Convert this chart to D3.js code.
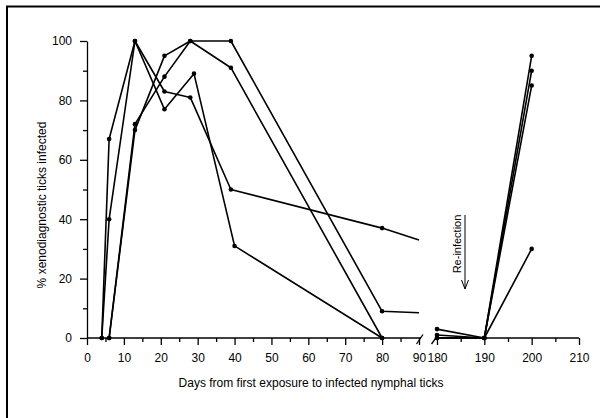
<!DOCTYPE html>
<html>
<head>
<meta charset="utf-8">
<script src="https://cdn.jsdelivr.net/npm/d3@7"></script>
<style>
  body { margin: 0; background: #fff; }
  svg { display: block; }
  text { font-family: "Liberation Sans", Arial, Helvetica, sans-serif; fill: #000; }
  .axis path, .axis line { stroke: #000; stroke-width: 1.3; }
  .axis text { font-size: 12px; }
</style>
</head>
<body>
<div id="chart"></div>
<script>
// Days after first exposure, values = % xenodiagnostic ticks infected
// first part of the time axis (0-90 days)
const seriesA1 = [[4, 0], [6, 67], [13, 100], [21, 83], [28, 81], [39, 50], [80, 37], [90, 33]];
const seriesB1 = [[4, 0], [6, 40], [13, 100], [21, 77], [29, 89], [40, 31], [80, 0]];
const seriesC1 = [[6, 0], [13, 72], [21, 88], [28, 100], [39, 100], [80, 9], [90, 8.5]];
const seriesD1 = [[6, 0], [13, 70], [21, 95], [28, 100], [39, 91], [80, 0]];

// second part (after re-infection, 180-210 days)
const seriesA2 = [[180, 3], [190, 0], [200, 30]];
const seriesB2 = [[180, 1], [190, 0], [200, 85]];
const seriesC2 = [[180, 0], [190, 0], [200, 95]];
const seriesD2 = [[180, 0], [190, 0], [200, 90]];

const ticksX1 = [0, 10, 20, 30, 40, 50, 60, 70, 80, 90];
const minorX1 = [5, 15, 25, 35, 45, 55, 65, 75, 85];
const ticksX2 = [180, 190, 200, 210];
const minorX2 = [185, 195, 205];
const ticksY = [0, 20, 40, 60, 80, 100];
const minorY = [10, 30, 50, 70, 90];

const width = 600, height = 418;

const svg = d3.select("#chart").append("svg")
    .attr("width", width)
    .attr("height", height);

// frame (cut off at right and bottom in the scan)
svg.append("rect")
    .attr("x", 7).attr("y", 6.5)
    .attr("width", 620).attr("height", 440)
    .attr("fill", "none")
    .attr("stroke", "#000")
    .attr("stroke-width", 2);

// scales, the x axis is broken between 90 and 180
const x1 = d3.scaleLinear().domain([0, 90]).range([87, 419]);
const x2 = d3.scaleLinear().domain([180, 210]).range([437, 579]);
const y = d3.scaleLinear().domain([0, 100]).range([338, 41]);
const x = d => d <= 90 ? x1(d) : x2(d);

// y axis
svg.append("g")
    .attr("class", "axis")
    .attr("transform", "translate(87,0)")
    .call(d3.axisLeft(y).tickValues(ticksY).tickSize(7).tickSizeOuter(0).tickPadding(8));
svg.append("g")
    .attr("class", "axis")
    .attr("transform", "translate(87,0)")
    .call(d3.axisLeft(y).tickValues(minorY).tickSize(4).tickSizeOuter(0).tickFormat(""))
    .select(".domain").remove();

// x axis, two pieces
const xAxis1 = svg.append("g")
    .attr("class", "axis")
    .attr("transform", "translate(0,338)")
    .call(d3.axisBottom(x1).tickValues(ticksX1).tickSize(7).tickSizeOuter(0).tickPadding(8));
svg.append("g")
    .attr("class", "axis")
    .attr("transform", "translate(0,338)")
    .call(d3.axisBottom(x1).tickValues(minorX1).tickSize(4).tickSizeOuter(0).tickFormat(""))
    .select(".domain").remove();
xAxis1.select(".domain").attr("d", "M87,0H421");

const xAxis2 = svg.append("g")
    .attr("class", "axis")
    .attr("transform", "translate(0,338)")
    .call(d3.axisBottom(x2).tickValues(ticksX2).tickSize(7).tickSizeOuter(0).tickPadding(8));
svg.append("g")
    .attr("class", "axis")
    .attr("transform", "translate(0,338)")
    .call(d3.axisBottom(x2).tickValues(minorX2).tickSize(4).tickSizeOuter(0).tickFormat(""))
    .select(".domain").remove();
xAxis2.select(".domain").attr("d", "M435,0H579");

// break marks
svg.append("line")
    .attr("x1", 416.5).attr("y1", 344).attr("x2", 423).attr("y2", 334.5)
    .attr("stroke", "#000").attr("stroke-width", 1.3);
svg.append("line")
    .attr("x1", 431.5).attr("y1", 344).attr("x2", 437).attr("y2", 336.5)
    .attr("stroke", "#000").attr("stroke-width", 1.3);

// axis titles
svg.append("text")
    .attr("x", 311).attr("y", 387)
    .attr("text-anchor", "middle")
    .style("font-size", "12px")
    .text("Days from first exposure to infected nymphal ticks");

svg.append("text")
    .attr("transform", "translate(46,205) rotate(-90)")
    .attr("text-anchor", "middle")
    .style("font-size", "12px")
    .text("% xenodiagnostic ticks infected");

// re-infection note with arrow
svg.append("text")
    .attr("transform", "translate(461,244) rotate(-90)")
    .attr("text-anchor", "middle")
    .style("font-size", "11px")
    .text("Re-infection");
svg.append("path")
    .attr("d", "M465,215V289M461.5,280L465,289L468.5,280")
    .attr("fill", "none")
    .attr("stroke", "#000")
    .attr("stroke-width", 1);

// lines and markers
const allSeries = [seriesA1, seriesB1, seriesC1, seriesD1, seriesA2, seriesB2, seriesC2, seriesD2];

const line = d3.line()
    .x(d => x(d[0]))
    .y(d => y(d[1]));

svg.selectAll(".series")
    .data(allSeries)
    .enter()
    .append("path")
    .attr("class", "series")
    .attr("d", line)
    .attr("fill", "none")
    .attr("stroke", "#000")
    .attr("stroke-width", 1.6)
    .attr("stroke-linejoin", "round");

// points at the axis break (day 90) are not marked
const points = allSeries.flat().filter(d => d[0] !== 90);
svg.selectAll(".dot")
    .data(points)
    .enter()
    .append("circle")
    .attr("class", "dot")
    .attr("cx", d => x(d[0]))
    .attr("cy", d => y(d[1]))
    .attr("r", 2.3)
    .attr("fill", "#000");
</script>
</body>
</html>
